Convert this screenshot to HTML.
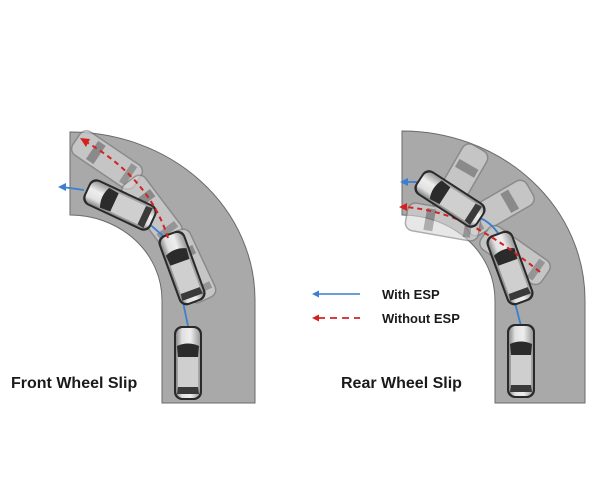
<!DOCTYPE html>
<html><head><meta charset="utf-8"><style>
html,body{margin:0;padding:0;background:#fff;}
svg{display:block;}
text{font-family:"Liberation Sans",sans-serif;font-weight:bold;fill:#1a1a1a;}
</style></head><body>
<svg width="611" height="500" viewBox="0 0 611 500" xmlns="http://www.w3.org/2000/svg">
<defs>
<linearGradient id="body" x1="0" x2="1" y1="0" y2="0">
<stop offset="0" stop-color="#8a8a8a"/><stop offset="0.25" stop-color="#e0e0e0"/><stop offset="0.6" stop-color="#eeeeee"/><stop offset="1" stop-color="#9a9a9a"/>
</linearGradient>
<g id="car">
<rect x="-14" y="-37" width="28" height="74" rx="8" fill="#2a2a2a"/>
<rect x="-12" y="-35" width="24" height="70" rx="7" fill="url(#body)"/>
<path d="M-11,-17 Q0,-22 11,-17 L10,-6 L-10,-6 Z" fill="#2b2b2b"/>
<rect x="-10" y="-6" width="20" height="30" fill="#cfcfcf"/>
<path d="M-10,24 L10,24 L11,31 L-11,31 Z" fill="#3a3a3a"/>
</g>
<g id="ghost" opacity="0.6">
<rect x="-14" y="-37" width="28" height="74" rx="8" fill="#d8d8d8" stroke="#777" stroke-width="1.5"/>
<rect x="-11" y="-18" width="22" height="9" fill="#777"/>
<rect x="-11" y="22" width="22" height="7" fill="#888"/>
</g>
</defs>

<path d="M70,132 A185,168 0 0 1 255,300 L255,403 L162,403 L162,300 A92,85 0 0 0 70,215 Z" fill="#a9a9a9" stroke="#6a6a6a" stroke-width="1"/>
<path d="M402,131 A183,169 0 0 1 585,300 L585,403 L495,403 L495,300 A93,85 0 0 0 402,215 Z" fill="#a9a9a9" stroke="#6a6a6a" stroke-width="1"/>

<use href="#ghost" transform="translate(107,160) rotate(-56)"/>
<use href="#ghost" transform="translate(152,210) rotate(-37)"/>
<use href="#ghost" transform="translate(190,266) rotate(-25)"/>
<path d="M188,326 L183,302 M168,240 Q150,225 140,215" stroke="#3b7fd0" stroke-width="1.8" fill="none"/>
<path d="M84,190 L62,187" stroke="#3b7fd0" stroke-width="1.8" fill="none"/>
<path d="M58,187 L66,183 L66,191 Z" fill="#3b7fd0"/>
<use href="#car" transform="translate(188,363)"/>
<use href="#car" transform="translate(182,268) rotate(-20)"/>
<use href="#car" transform="translate(120,205) rotate(-65)"/>
<path d="M168,238 Q150,180 88,143" stroke="#d62020" stroke-width="2" stroke-dasharray="5,4" fill="none"/>
<path d="M80,138 L90,139 L86,147 Z" fill="#d62020"/>

<use href="#ghost" transform="translate(460,180) rotate(30)"/>
<use href="#ghost" transform="translate(498,208) rotate(60)"/>
<use href="#ghost" transform="translate(443,222) rotate(-80)"/>
<use href="#ghost" transform="translate(515,255) rotate(-55)"/>
<path d="M521,326 L515,303 M498,233 Q490,222 480,218" stroke="#3b7fd0" stroke-width="1.8" fill="none"/>
<path d="M418,182 L404,182" stroke="#3b7fd0" stroke-width="1.8" fill="none"/>
<path d="M400,182 L408,178 L408,186 Z" fill="#3b7fd0"/>
<use href="#car" transform="translate(521,361)"/>
<use href="#car" transform="translate(510,268) rotate(-20)"/>
<path d="M540,272 Q500,240 470,225 Q440,210 405,207" stroke="#d62020" stroke-width="2" stroke-dasharray="5,4" fill="none"/>
<path d="M399,207 L407,203 L407,211 Z" fill="#d62020"/>
<use href="#car" transform="translate(450,199) rotate(-57)"/>

<line x1="316" y1="294" x2="360" y2="294" stroke="#3b7fd0" stroke-width="1.5"/>
<path d="M312,294 L319,290.5 L319,297.5 Z" fill="#3b7fd0"/>
<line x1="318" y1="318" x2="360" y2="318" stroke="#d62020" stroke-width="1.8" stroke-dasharray="7,5"/>
<path d="M312,318 L319,314.5 L319,321.5 Z" fill="#d62020"/>
<text x="382" y="299" font-size="13">With ESP</text>
<text x="382" y="323" font-size="13">Without ESP</text>

<text x="11" y="388" font-size="16">Front Wheel Slip</text>
<text x="341" y="388" font-size="16">Rear Wheel Slip</text>
</svg>
</body></html>
